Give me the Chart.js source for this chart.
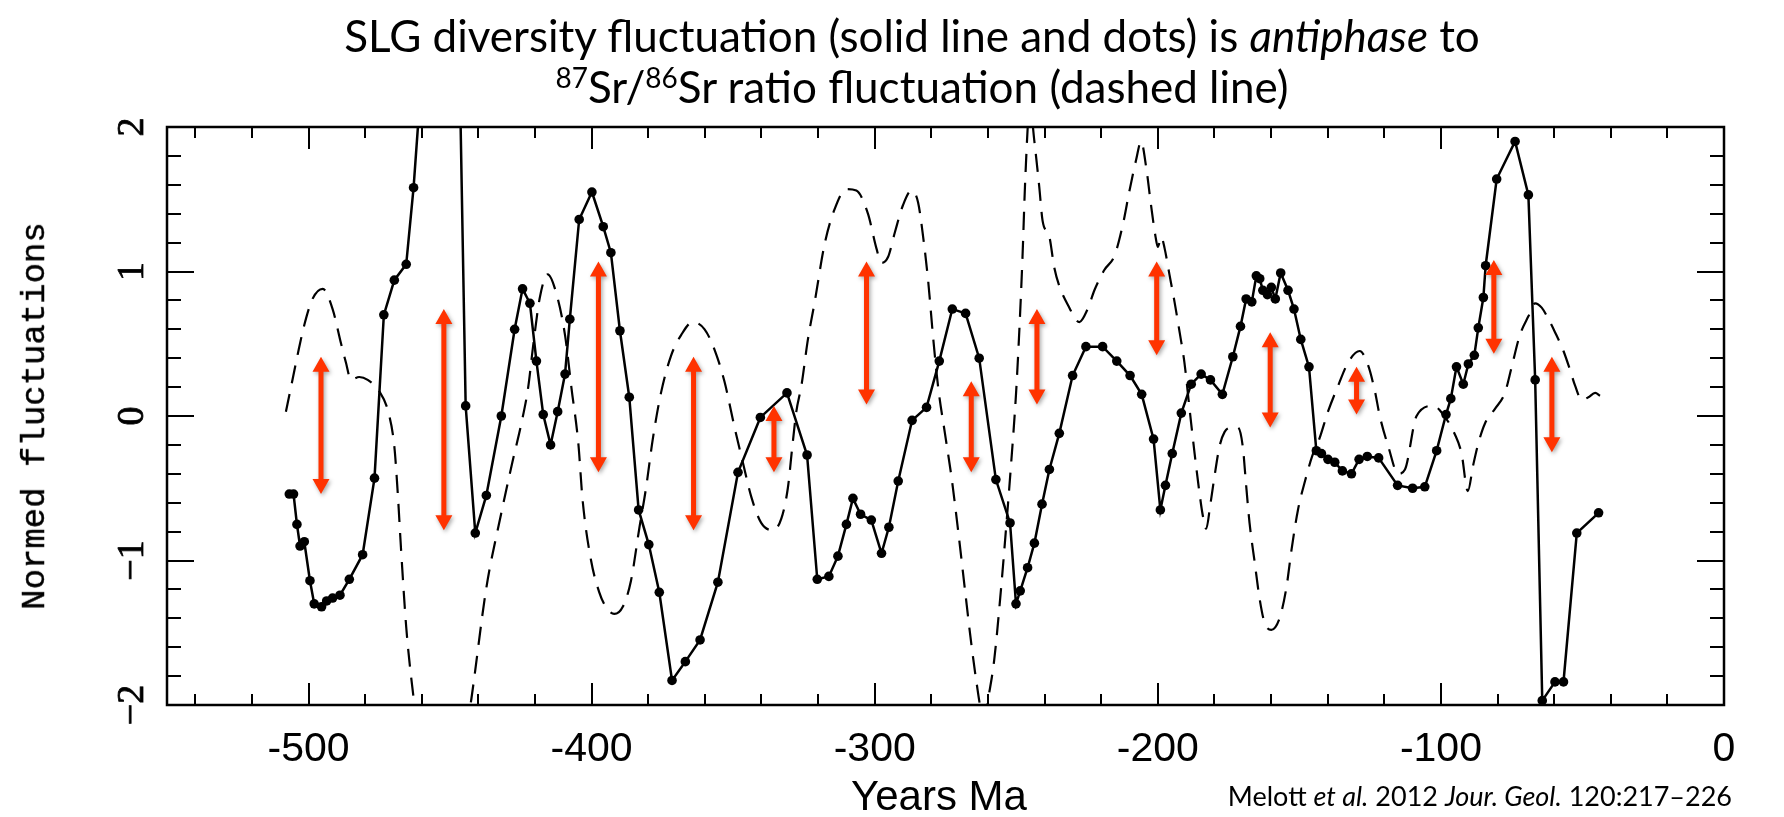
<!DOCTYPE html>
<html>
<head>
<meta charset="utf-8">
<script src="https://cdn.jsdelivr.net/npm/chart.js@4.4.1/dist/chart.umd.min.js"></script>
<style>
  html, body { margin: 0; padding: 0; background: #fff; }
  #wrap { position: relative; width: 1784px; height: 817px; overflow: hidden; background: #fff; }
  #c { position: absolute; left: 0; top: 0; }
  .txt { position: absolute; white-space: nowrap; color: #000; line-height: 1; }
  .title { font-family: "Lato", "Open Sans", sans-serif; font-size: 44px; transform: translateX(-50%); }
  .title sup { font-size: 28px; vertical-align: 0; position: relative; top: -15px; }
  #cite { font-family: "Lato", "Open Sans", sans-serif; font-size: 27px; right: 52px; top: 782px; }
  #xtitle { font-family: "Liberation Sans", Arial, sans-serif; font-size: 42px; left: 939px; top: 775px; transform: translateX(-50%); }
  #ytitle { font-family: "Liberation Mono", "DejaVu Sans Mono", monospace; font-size: 34px; left: 35px; top: 416px; transform: translate(-50%, -50%) rotate(-90deg); -webkit-text-stroke: 0.4px #000; }
</style>
</head>
<body>
<div id="wrap">
  <canvas id="c" width="1784" height="817"></canvas>
  <div class="txt title" id="t1" style="top:13px; left:912px;">SLG diversity fluctuation (solid line and dots) is <i>antiphase</i> to</div>
  <div class="txt title" id="t2" style="top:64px; left:922px;"><sup>87</sup>Sr/<sup>86</sup>Sr ratio fluctuation (dashed line)</div>
  <div class="txt" id="xtitle">Years Ma</div>
  <div class="txt" id="ytitle">Normed fluctuations</div>
  <div class="txt" id="cite">Melott <i>et al.</i> 2012 <i>Jour. Geol.</i> 120:217–226</div>
</div>
<script>
// ---------------- data ----------------
const slgAge = [
  -506.8, -505.3, -504.1, -503.0, -501.5, -499.5, -498.0, -495.4, -493.6, -491.5,
  -488.9, -485.6, -480.9, -476.7, -473.4, -469.7, -465.5, -462.9, -449.3, -444.5,
  -441.1, -437.2, -431.9, -427.2, -424.4, -421.8, -419.5, -417.1, -414.5, -412.0,
  -409.4, -407.7, -404.4, -399.9, -395.9, -393.2, -390.0, -386.7, -383.4, -379.8,
  -376.1, -371.6, -366.9, -361.7, -355.4, -348.3, -340.4, -331.0, -323.9, -320.3,
  -316.2, -313.0, -310.0, -307.7, -305.0, -301.2, -297.6, -295.0, -291.7, -286.8,
  -281.7, -277.2, -272.6, -267.9, -263.1, -257.2, -252.2, -250.1, -248.6, -246.0,
  -243.6, -240.9, -238.3, -234.8, -230.1, -225.4, -219.5, -214.5, -209.8, -205.7,
  -201.5, -199.1, -197.3, -194.9, -191.7, -188.2, -184.7, -181.4, -177.2, -173.5,
  -170.8, -168.8, -166.8, -165.2, -164.0, -162.9, -161.3, -159.9, -158.5, -156.6,
  -154.0, -151.9, -149.5, -146.6, -144.0, -142.2, -139.9, -137.5, -134.8, -131.6,
  -128.9, -126.0, -122.0, -115.3, -110.0, -105.7, -101.5, -98.2, -96.5, -94.5,
  -92.1, -90.3, -88.2, -86.8, -85.0, -84.2, -80.3, -73.8, -69.1, -66.7,
  -64.2, -59.7, -56.7, -52.0, -44.3
];
const slgValue = [
  -0.54, -0.54, -0.75, -0.90, -0.87, -1.14, -1.30, -1.32, -1.28, -1.26,
  -1.24, -1.13, -0.96, -0.43, 0.70, 0.94, 1.05, 1.58, 5.30, 0.07,
  -0.81, -0.55, 0.00, 0.60, 0.88, 0.78, 0.38, 0.01, -0.20, 0.03,
  0.29, 0.67, 1.36, 1.55, 1.31, 1.13, 0.59, 0.13, -0.65, -0.89,
  -1.22, -1.83, -1.70, -1.55, -1.15, -0.39, -0.01, 0.16, -0.27, -1.13,
  -1.11, -0.97, -0.75, -0.57, -0.68, -0.72, -0.95, -0.77, -0.45, -0.03,
  0.06, 0.38, 0.74, 0.71, 0.40, -0.44, -0.74, -1.30, -1.21, -1.05,
  -0.88, -0.61, -0.37, -0.12, 0.28, 0.48, 0.48, 0.38, 0.28, 0.15,
  -0.16, -0.65, -0.48, -0.26, 0.02, 0.22, 0.29, 0.25, 0.15, 0.41,
  0.62, 0.81, 0.79, 0.97, 0.95, 0.87, 0.84, 0.89, 0.81, 0.99,
  0.87, 0.74, 0.53, 0.34, -0.24, -0.26, -0.30, -0.32, -0.38, -0.40,
  -0.30, -0.28, -0.29, -0.48, -0.50, -0.49, -0.24, 0.01, 0.12, 0.34,
  0.22, 0.36, 0.42, 0.61, 0.82, 1.04, 1.64, 1.90, 1.53, 0.25,
  -1.97, -1.84, -1.84, -0.81, -0.67
];

const srAge = [
  -508.0, -506.3, -503.9, -501.5, -498.6, -495.0, -491.5, -488.5, -486.8, -485.0,
  -482.1, -479.1, -475.0, -472.0, -469.7, -468.5, -467.3, -465.5, -463.8, -460.0,
  -455.0, -450.0, -446.0, -442.5, -437.2, -432.0, -428.0, -424.8, -422.4, -420.7,
  -418.3, -415.5, -412.5, -409.4, -407.1, -404.7, -403.2, -400.2, -397.3, -395.0,
  -392.0, -389.0, -386.1, -383.1, -380.8, -378.4, -375.5, -371.9, -368.4, -364.3,
  -360.1, -356.6, -353.1, -349.5, -346.6, -343.6, -340.1, -336.0, -333.0, -330.7,
  -329.1, -327.7, -325.9, -323.6, -321.2, -317.7, -314.2, -310.0, -306.5, -302.4,
  -299.4, -297.6, -295.3, -292.9, -290.0, -287.0, -284.7, -282.9, -281.1, -279.4,
  -277.6, -275.2, -272.9, -270.5, -268.2, -265.8, -264.0, -262.6, -261.2, -259.6,
  -257.8, -255.4, -253.7, -251.9, -250.1, -248.9, -247.8, -246.8, -245.2, -243.6,
  -241.9, -240.7, -238.3, -236.6, -234.8, -231.8, -227.7, -224.8, -222.4, -218.9,
  -215.3, -212.4, -210.0, -207.7, -205.9, -204.1, -202.4, -200.8, -200.0, -198.8,
  -197.6, -195.9, -194.1, -192.3, -190.6, -188.8, -187.0, -185.3, -184.1, -182.9,
  -181.5, -180.0, -178.2, -176.4, -174.1, -171.7, -170.0, -168.8, -167.6, -165.8,
  -164.0, -162.3, -159.9, -157.0, -154.6, -152.8, -150.5, -148.0, -145.5, -142.8,
  -139.9, -136.3, -132.8, -128.7, -125.7, -123.3, -121.6, -118.6, -115.1, -112.7,
  -108.6, -102.7, -100.4, -95.0, -92.7, -90.5, -88.6, -86.8, -84.4, -80.9,
  -77.4, -75.0, -72.1, -69.1, -66.7, -64.4, -62.0, -59.7, -56.7, -54.4,
  -52.6, -50.2, -47.9, -45.5, -43.8
];
const srValue = [
  0.03, 0.19, 0.42, 0.63, 0.81, 0.88, 0.74, 0.50, 0.37, 0.25,
  0.27, 0.25, 0.17, 0.04, -0.21, -0.53, -0.93, -1.46, -1.80, -2.35,
  -2.85, -2.80, -2.40, -1.96, -1.19, -0.68, -0.32, -0.05, 0.20, 0.48,
  0.82, 0.98, 0.85, 0.56, 0.19, -0.19, -0.58, -1.00, -1.22, -1.32,
  -1.37, -1.32, -1.14, -0.77, -0.50, -0.16, 0.16, 0.42, 0.56, 0.65,
  0.60, 0.46, 0.24, -0.08, -0.32, -0.56, -0.74, -0.79, -0.71, -0.50,
  -0.21, 0.03, 0.21, 0.53, 0.79, 1.19, 1.43, 1.57, 1.56, 1.40,
  1.16, 1.06, 1.10, 1.27, 1.46, 1.56, 1.48, 1.24, 0.93, 0.55,
  0.20, -0.12, -0.42, -0.80, -1.19, -1.59, -1.85, -2.02, -2.08, -1.92,
  -1.69, -1.20, -0.80, -0.35, 0.15, 0.60, 1.10, 1.65, 2.15, 1.90,
  1.59, 1.35, 1.24, 1.03, 0.90, 0.77, 0.65, 0.74, 0.87, 1.01,
  1.11, 1.32, 1.56, 1.77, 1.90, 1.72, 1.46, 1.24, 1.17, 1.24,
  1.16, 0.98, 0.79, 0.58, 0.37, 0.05, -0.26, -0.53, -0.69, -0.78,
  -0.62, -0.42, -0.21, -0.11, -0.08, -0.08, -0.21, -0.48, -0.74, -1.01,
  -1.27, -1.43, -1.48, -1.40, -1.19, -0.93, -0.65, -0.45, -0.28, -0.15,
  0.03, 0.21, 0.37, 0.45, 0.35, 0.17, 0.00, -0.21, -0.40, -0.37,
  0.00, 0.07, 0.04, -0.13, -0.26, -0.52, -0.34, -0.19, -0.05, 0.05,
  0.16, 0.34, 0.56, 0.69, 0.78, 0.75, 0.67, 0.58, 0.45, 0.32,
  0.21, 0.11, 0.13, 0.16, 0.14
];

// red double-headed arrows (age, top value, bottom value)
const arrowAge    = [-495.6, -452.2, -397.6, -364.0, -335.6, -302.9, -265.9, -242.7, -200.4, -160.3, -129.8, -81.3, -60.8];
const arrowTop    = [0.41, 0.74, 1.07, 0.41, 0.07, 1.07, 0.24, 0.74, 1.07, 0.58, 0.34, 1.08, 0.41];
const arrowBottom = [-0.54, -0.79, -0.39, -0.79, -0.39, 0.08, -0.39, 0.08, 0.42, -0.08, 0.01, 0.43, -0.25];

// axes
const xTickValues = [-540,-520,-500,-480,-460,-440,-420,-400,-380,-360,-340,-320,-300,-280,-260,-240,-220,-200,-180,-160,-140,-120,-100,-80,-60,-40,-20];
const xTickLabels = ['-500','-400','-300','-200','-100','0'];
const xLabelValues = [-500,-400,-300,-200,-100,0];
const yTickValues = [-1.8,-1.6,-1.4,-1.2,-1,-0.8,-0.6,-0.4,-0.2,0,0.2,0.4,0.6,0.8,1,1.2,1.4,1.6,1.8];
const yTickLabels = ['\u22122','\u22121','0','1','2'];
const yLabelValues = [-2,-1,0,1,2];

// ---------------- chart ----------------
const slgData = slgAge.map((a, i) => ({x: a, y: slgValue[i]}));
const srData = srAge.map((a, i) => ({x: a, y: srValue[i]}));

const decorPlugin = {
  id: 'decor',
  afterDatasetsDraw(chart) {
    const {ctx, chartArea: a, scales: {x, y}} = chart;
    ctx.save();

    // arrows
    ctx.fillStyle = '#ff3300';
    ctx.shadowColor = 'rgba(0,0,0,0.35)';
    ctx.shadowBlur = 4;
    ctx.shadowOffsetX = 1.5;
    ctx.shadowOffsetY = 2;
    const hw = 8.5, hh = 15, sw = 5;
    for (let i = 0; i < arrowAge.length; i++) {
      const px = x.getPixelForValue(arrowAge[i]);
      const y1 = y.getPixelForValue(arrowTop[i]);
      const y2 = y.getPixelForValue(arrowBottom[i]);
      ctx.beginPath();
      ctx.moveTo(px, y1);
      ctx.lineTo(px + hw, y1 + hh);
      ctx.lineTo(px + sw / 2, y1 + hh);
      ctx.lineTo(px + sw / 2, y2 - hh);
      ctx.lineTo(px + hw, y2 - hh);
      ctx.lineTo(px, y2);
      ctx.lineTo(px - hw, y2 - hh);
      ctx.lineTo(px - sw / 2, y2 - hh);
      ctx.lineTo(px - sw / 2, y1 + hh);
      ctx.lineTo(px - hw, y1 + hh);
      ctx.closePath();
      ctx.fill();
    }
    ctx.shadowColor = 'transparent';
    ctx.shadowBlur = 0;
    ctx.shadowOffsetX = 0;
    ctx.shadowOffsetY = 0;

    // frame
    ctx.strokeStyle = '#000';
    ctx.lineWidth = 2.5;
    ctx.strokeRect(a.left, a.top, a.right - a.left, a.bottom - a.top);

    // ticks (inward, all four sides)
    ctx.lineWidth = 2;
    ctx.beginPath();
    xTickValues.forEach(v => {
      const px = Math.round(x.getPixelForValue(v));
      const len = (v % 100 === 0) ? 22 : 11;
      ctx.moveTo(px, a.bottom); ctx.lineTo(px, a.bottom - len);
      ctx.moveTo(px, a.top); ctx.lineTo(px, a.top + len);
    });
    yTickValues.forEach(v => {
      const py = Math.round(y.getPixelForValue(v));
      const len = (Math.abs(v - Math.round(v)) < 1e-6) ? 27 : 14;
      ctx.moveTo(a.left, py); ctx.lineTo(a.left + len, py);
      ctx.moveTo(a.right, py); ctx.lineTo(a.right - len, py);
    });
    ctx.stroke();

    // x tick labels
    ctx.fillStyle = '#000';
    ctx.font = '41px "Liberation Sans", Arial, sans-serif';
    ctx.textAlign = 'center';
    ctx.textBaseline = 'middle';
    xLabelValues.forEach((v, i) => {
      ctx.fillText(xTickLabels[i], x.getPixelForValue(v), 750);
    });

    // y tick labels (rotated)
    ctx.font = '38px "Liberation Serif", "DejaVu Serif", serif';
    ctx.lineWidth = 0.8;
    yLabelValues.forEach((v, i) => {
      ctx.save();
      ctx.translate(133, y.getPixelForValue(v));
      ctx.rotate(-Math.PI / 2);
      ctx.fillText(yTickLabels[i], 0, 0);
      ctx.strokeText(yTickLabels[i], 0, 0);
      ctx.restore();
    });

    ctx.restore();
  }
};

new Chart(document.getElementById('c'), {
  type: 'line',
  data: {
    datasets: [
      {
        label: 'SLG diversity',
        data: slgData,
        borderColor: '#000',
        backgroundColor: '#000',
        borderWidth: 2.5,
        pointRadius: 4.8,
        pointBackgroundColor: '#000',
        pointBorderWidth: 0,
        tension: 0,
        order: 1
      },
      {
        label: '87Sr/86Sr',
        data: srData,
        borderColor: '#000',
        borderWidth: 2.2,
        borderDash: [18, 11],
        pointRadius: 0,
        cubicInterpolationMode: 'monotone',
        order: 2
      }
    ]
  },
  options: {
    responsive: false,
    devicePixelRatio: 1,
    animation: false,
    layout: { padding: { left: 167, top: 127, right: 60, bottom: 112 } },
    scales: {
      x: { type: 'linear', min: -550, max: 0, display: false },
      y: { type: 'linear', min: -2, max: 2, display: false }
    },
    plugins: { legend: { display: false }, tooltip: { enabled: false }, title: { display: false } }
  },
  plugins: [decorPlugin]
});
</script>
</body>
</html>
